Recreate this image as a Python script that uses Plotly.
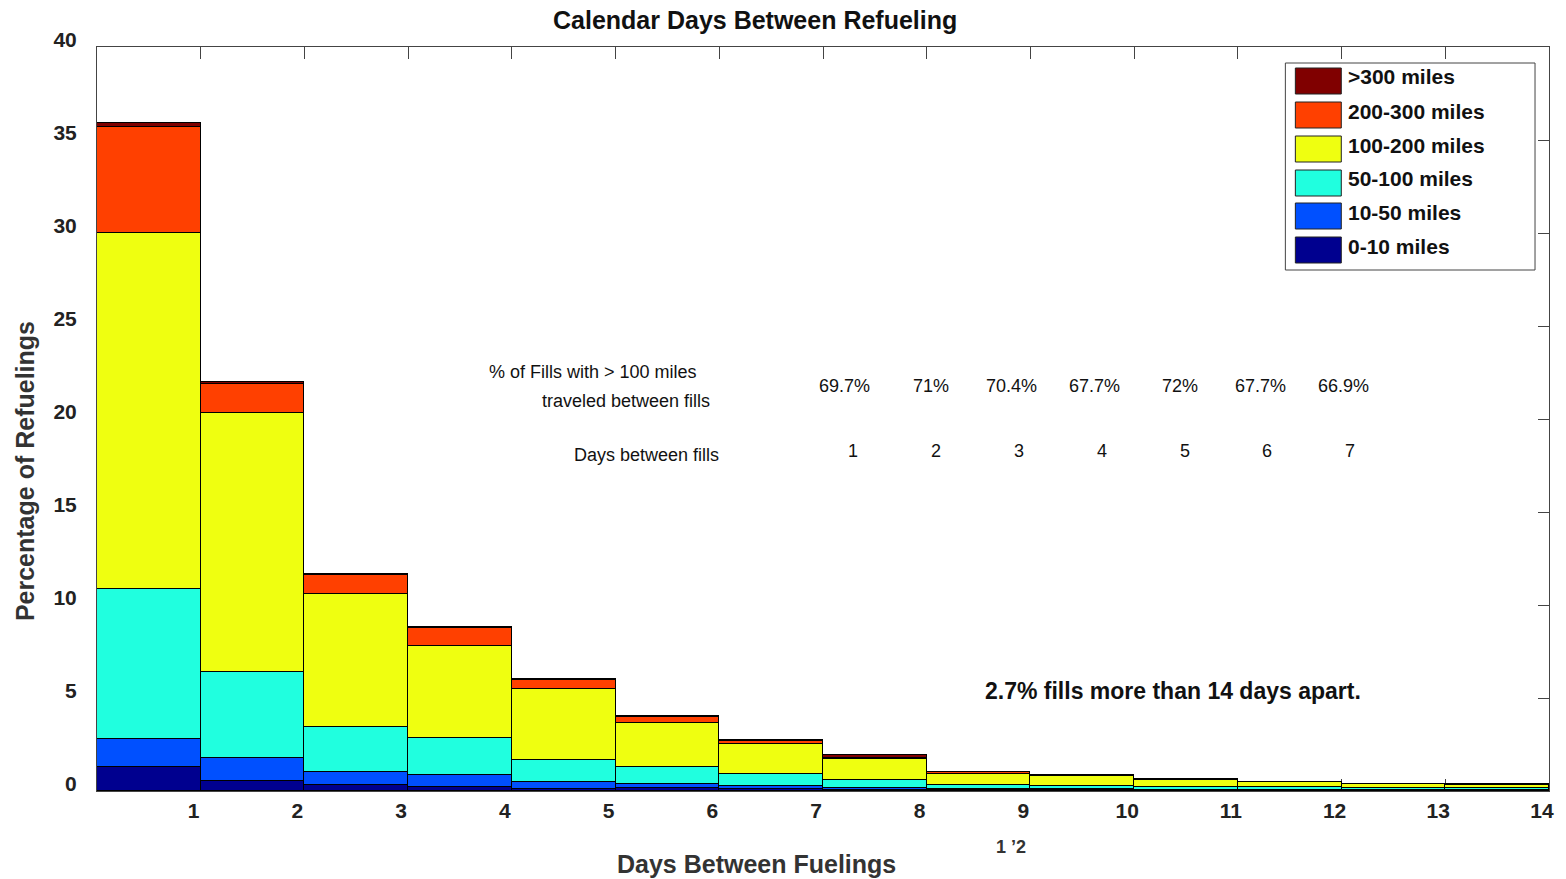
import plotly.graph_objects as go

# ---- data ----
day_bins = list(range(0, 14))            # left edge of each 1-day bin
series_names = ["0-10 miles", "10-50 miles", "50-100 miles",
                "100-200 miles", "200-300 miles", ">300 miles"]
series_colors = ["#00008F", "#0050FF", "#20FFDF", "#EFFF10", "#FF4000", "#800000"]

miles_0_10    = [1.27, 0.54, 0.34, 0.21, 0.09, 0.15, 0.11, 0.05, 0.04, 0.03, 0.02, 0.02, 0.02, 0.02]
miles_10_50   = [1.51, 1.25, 0.68, 0.63, 0.39, 0.21, 0.18, 0.09, 0.07, 0.06, 0.05, 0.05, 0.04, 0.03]
miles_50_100  = [8.08, 4.59, 2.44, 1.99, 1.19, 0.93, 0.61, 0.45, 0.23, 0.20, 0.16, 0.12, 0.09, 0.10]
miles_100_200 = [19.12, 13.96, 7.13, 4.97, 3.80, 2.37, 1.61, 1.13, 0.59, 0.52, 0.38, 0.28, 0.22, 0.19]
miles_200_300 = [5.74, 1.54, 1.01, 0.98, 0.49, 0.31, 0.17, 0.04, 0.07, 0.05, 0.03, 0.02, 0.01, 0.01]
miles_300_up  = [0.21, 0.11, 0.07, 0.05, 0.04, 0.04, 0.04, 0.16, 0.04, 0.02, 0.02, 0.01, 0.01, 0.01]
series_values = [miles_0_10, miles_10_50, miles_50_100, miles_100_200, miles_200_300, miles_300_up]

x_ticks = list(range(1, 15))
y_ticks = list(range(0, 41, 5))

pct_labels = ["69.7%", "71%", "70.4%", "67.7%", "72%", "67.7%", "66.9%"]
day_labels = ["1", "2", "3", "4", "5", "6", "7"]

# ---- figure ----
W, H = 1566, 879
L, R, T, B = 97, 15, 47, 88
PW, PH = W - L - R, H - T - B
FONT = "Liberation Sans, Arial, Helvetica, sans-serif"


def px(xp):
    return (xp - L) / PW


def py(yp):
    return (H - B - yp) / PH


fig = go.Figure()
for name, color, vals in zip(series_names, series_colors, series_values):
    fig.add_trace(go.Bar(
        x=[d + 0.5 for d in day_bins], y=vals, width=1, name=name,
        marker=dict(color=color, line=dict(color="black", width=1.2)),
        showlegend=False,
    ))

axis_common = dict(
    showline=True, linecolor="#444", linewidth=1, mirror="ticks",
    ticks="inside", tickcolor="#444", showgrid=False, zeroline=False,
    layer="below traces",
    tickfont=dict(family=FONT, size=21, color="#222"),
)

fig.update_layout(
    width=W, height=H,
    margin=dict(l=L, r=R, t=T, b=B),
    barmode="stack", bargap=0,
    plot_bgcolor="white", paper_bgcolor="white",
    font=dict(family=FONT, color="#222"),
    xaxis=dict(range=[0, 14], tickvals=x_ticks, ticktext=[f"<b>{v}</b>" for v in x_ticks],
               ticklen=12, ticklabelshift=-7, ticklabelstandoff=1, **axis_common),
    yaxis=dict(range=[0, 40], tickvals=y_ticks, ticktext=[f"<b>{v}</b>" for v in y_ticks],
               ticklen=11, ticklabelshift=-7, ticklabelstandoff=15, **axis_common),
)

ann = []
# titles
ann.append(dict(text="<b>Calendar Days Between Refueling</b>", x=px(756), y=py(20),
                font=dict(size=25, family=FONT, color="#111")))
ann.append(dict(text="<b>Days Between Fuelings</b>", x=px(757), y=py(864),
                font=dict(size=25, family=FONT, color="#333")))
ann.append(dict(text="<b>Percentage of Refuelings</b>", x=px(25), y=py(471), textangle=-90,
                font=dict(size=25, family=FONT, color="#333")))
ann.append(dict(text="<b>1 ’2</b>", x=px(1012), y=py(847),
                font=dict(size=18, family=FONT, color="#333")))

# in-plot notes
NOTE = dict(size=18, family=FONT, color="#111")
ann.append(dict(text="% of Fills with > 100 miles", x=px(594), y=py(372), font=NOTE))
ann.append(dict(text="traveled between fills", x=px(627), y=py(401), font=NOTE))
ann.append(dict(text="Days between fills", x=px(647), y=py(455), font=NOTE))
pct_x = [846, 932, 1013, 1096, 1181, 1262, 1345]
day_x = [854, 937, 1020, 1103, 1186, 1269, 1352]
for t, xp in zip(pct_labels, pct_x):
    ann.append(dict(text=t, x=px(xp), y=py(386), font=NOTE))
for t, xp in zip(day_labels, day_x):
    ann.append(dict(text=t, x=px(xp), y=py(451), font=NOTE))
ann.append(dict(text="<b>2.7% fills more than 14 days apart.</b>", x=px(1174), y=py(691),
                font=dict(size=23, family=FONT, color="#111")))

# custom legend (top entry = last series)
shapes = [dict(type="rect", xref="paper", yref="paper",
               x0=px(1287), x1=px(1537), y0=py(270), y1=py(63),
               line=dict(color="#444", width=1), fillcolor="white", layer="above")]
row_y = [81, 115, 149, 183, 216, 250]
for i, (name, color) in enumerate(zip(reversed(series_names), reversed(series_colors))):
    yc = row_y[i]
    shapes.append(dict(type="rect", xref="paper", yref="paper",
                       x0=px(1297), x1=px(1343), y0=py(yc + 13), y1=py(yc - 13),
                       line=dict(color="#222", width=1), fillcolor=color, layer="above"))
    ann.append(dict(text=f"<b>{name}</b>", x=px(1348), y=py(yc - 4), xanchor="left",
                    font=dict(size=21, family=FONT, color="#111")))

for a in ann:
    a.setdefault("xref", "paper")
    a.setdefault("yref", "paper")
    a.setdefault("showarrow", False)
    a.setdefault("xanchor", "center")
    a.setdefault("yanchor", "middle")

fig.update_layout(annotations=ann, shapes=shapes)
fig.write_html("out.html", config={"displayModeBar": False},
               post_script="document.body.style.margin='0';document.body.style.overflow='hidden';")
